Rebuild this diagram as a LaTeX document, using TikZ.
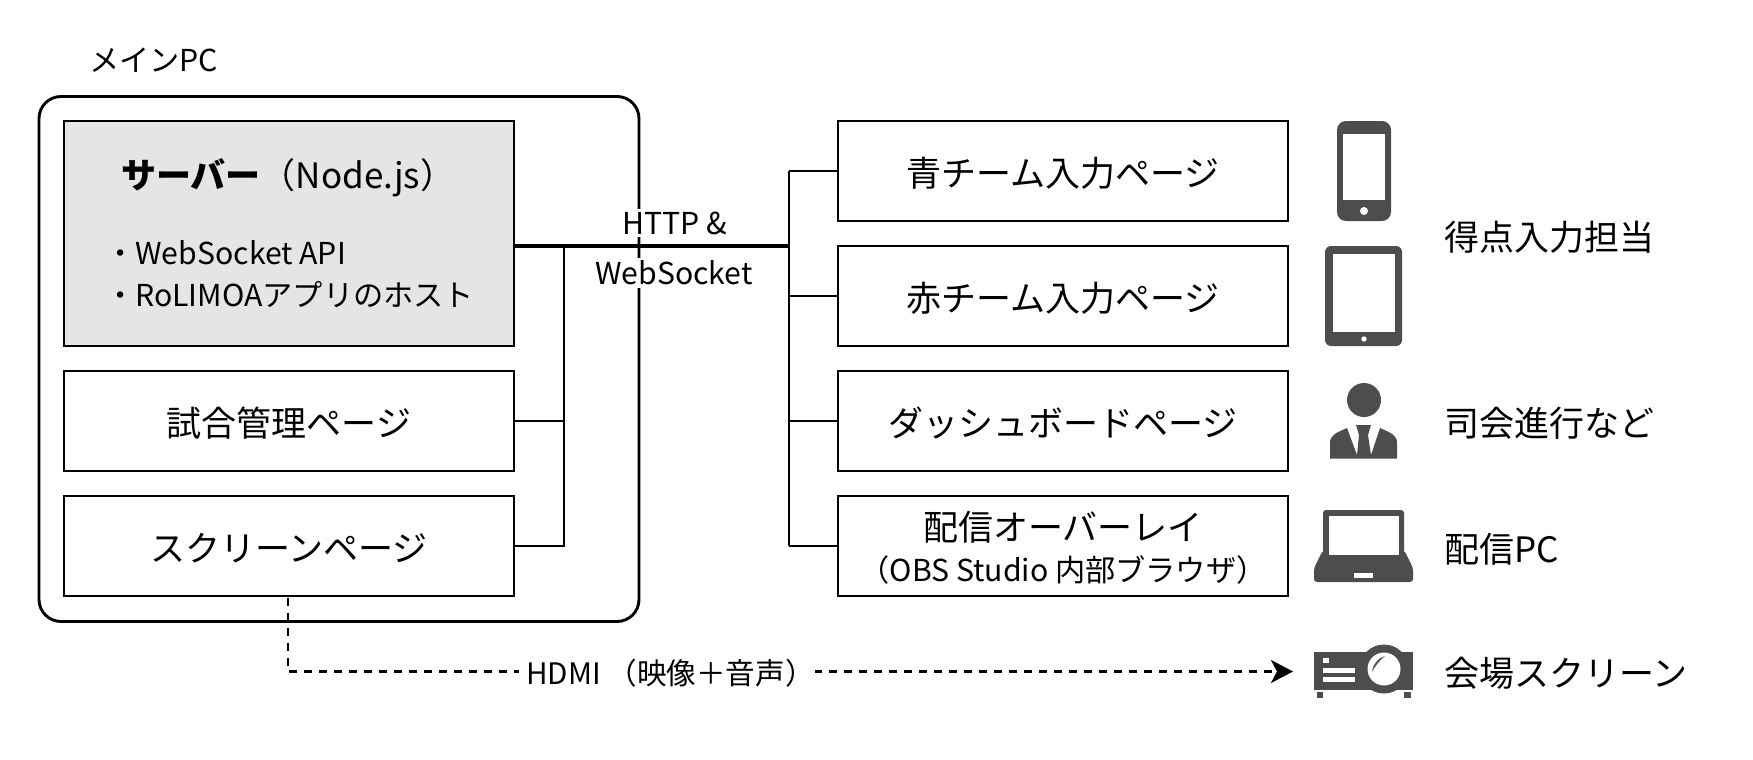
\documentclass[tikz,border=0pt]{standalone}
\usepackage{fontspec}
\setmainfont{Noto Sans CJK JP}
\usetikzlibrary{arrows.meta}
\definecolor{icon}{HTML}{4D4D4D}
\definecolor{srv}{HTML}{E5E5E5}
\tikzset{
  x=1pt,y=-1pt,
  box/.style={draw=black,line width=2.9pt,fill=white,minimum width=450pt,minimum height=100pt,inner sep=0pt,text height=30pt,text depth=0pt,font=\fontsize{35pt}{40pt}\selectfont},
  lbl/.style={inner sep=0pt,font=\fontsize{35pt}{40pt}\selectfont,anchor=west},
  small/.style={inner sep=0pt,font=\fontsize{30.2pt}{34pt}\selectfont},
  wire/.style={draw=black,line width=2.9pt},
  ico/.style={fill=icon,draw=none},
  hole/.style={fill=white,draw=none},
}
\begin{document}
\begin{tikzpicture}
\useasboundingbox (0,0) rectangle (1753,760);
\fill[white] (0,0) rectangle (1753,760);
% main PC frame
\node[small,anchor=west] (mainlabel) at (89,60) {メインPC};
\node[draw=black,line width=2.9pt,rounded corners=22pt,minimum width=600pt,minimum height=525pt,inner sep=0pt] (mainpc) at (339,359) {};
% transport labels interrupt the frame
\node[small,fill=white,inner xsep=2pt,inner ysep=3pt] (http) at (675,223) {HTTP \&};
\node[small,fill=white,inner xsep=2pt,inner ysep=3pt] (ws) at (674,273) {WebSocket};
% boxes
\node[box,fill=srv] (server) at (289,233.5) [minimum height=225pt] {};
\node[box] (match) at (289,421) {試合管理ページ};
\node[box] (screen) at (289,546) {スクリーンページ};
\node[box] (blue) at (1063,171) {青チーム入力ページ};
\node[box] (red) at (1063,296) {赤チーム入力ページ};
\node[box] (dash) at (1063,421) {ダッシュボードページ};
\node[box] (overlay) at (1063,546) {};
% text inside server
\node[lbl] (srvtitle) at (121,177.5) {\textbf{サーバー}（Node.js）};
\node[small,anchor=west] (srvline1) at (105,253) {・WebSocket API};
\node[small,anchor=west] (srvline2) at (105,295) {・RoLIMOAアプリのホスト};
% text inside overlay
\node[inner sep=0pt,font=\fontsize{35pt}{40pt}\selectfont] (ovl1) at (1063,527) {配信オーバーレイ};
\node[small] (ovl2) at (1063,570) {（OBS Studio 内部ブラウザ）};
% connectors
\coordinate (busL) at (564,246);
\coordinate (busR) at (789,246);
\draw[draw=black,line width=3.8pt] (server.east |- busL) -- (busR);
\draw[wire] (busL) -- (busL |- screen.east) -- (screen.east);
\draw[wire] (match.east) -- (busL |- match.east);
\draw[wire] (busR |- blue.west) -- (busR |- overlay.west);
\draw[wire] (busR |- blue.west) -- (blue.west);
\draw[wire] (busR |- red.west) -- (red.west);
\draw[wire] (busR |- dash.west) -- (dash.west);
\draw[wire] (busR |- overlay.west) -- (overlay.west);
% HDMI
\coordinate (hdmibend) at (288,671.5);
\coordinate (projin) at (1293,671.5);
\draw[draw=black,line width=2.8pt,dash pattern=on 8pt off 7pt,-{Stealth[length=22pt,width=23pt,inset=6pt]}] (288,597.5) -- (hdmibend) -- (projin);
\node[inner sep=0pt,font=\fontsize{29.6pt}{34pt}\selectfont,fill=white,anchor=west,inner ysep=4pt] (hdmi) at (519,673) {\hspace{7pt}HDMI （映像＋音声）};
% right labels
\node[lbl] (tokuten) at (1444,237) {得点入力担当};
\node[lbl] (shikai) at (1444,423) {司会進行など};
\node[lbl] (haishin) at (1444,549) {配信PC};
\node[lbl] (kaijo) at (1444,673) {会場スクリーン};
% phone
\fill[ico,rounded corners=9pt] (1337,121) rectangle (1391,221);
\fill[hole] (1343,134) rectangle (1385,200);
\fill[hole] (1364,211) circle (4pt);
% tablet
\fill[ico,rounded corners=6pt] (1325,246) rectangle (1402,346);
\fill[hole] (1333,254) rectangle (1395,332);
\fill[hole] (1364,339) circle (2.7pt);
% person
\fill[ico] (1364,400) circle (17pt);
\fill[ico] (1330,458.5) -- (1330,443) .. controls (1330,435) and (1336,433) .. (1347,428)
  -- (1357,455) -- (1371,455) -- (1380,428)
  .. controls (1391,433) and (1397,435) .. (1397,443) -- (1397,458.5) -- cycle;
\fill[ico] (1356,425) -- (1371,425) -- (1368,435) -- (1371,455) -- (1357,455) -- (1359,435) -- cycle;
% laptop
\fill[ico,rounded corners=3pt] (1323,510) rectangle (1404,556);
\fill[ico,rounded corners=3pt] (1323,550) -- (1404,550) -- (1413,568) -- (1413,582) -- (1314,582) -- (1314,568) -- cycle;
\fill[hole] (1329,516) rectangle (1399,555);
\fill[hole] (1354,573) rectangle (1373,578);
% projector
\fill[ico] (1314,652) rectangle (1413,690);
\fill[ico] (1384,669) circle (24.5pt);
\fill[ico] (1317,692) rectangle (1323,698);
\fill[ico] (1404,692) rectangle (1411,698);
\fill[hole] (1323,658) rectangle (1329,663);
\fill[hole] (1323,668) rectangle (1355,673);
\fill[hole] (1323,677) rectangle (1355,682);
\fill[hole] (1384,669) circle (16.5pt);
\fill[ico] (1372,672) .. controls (1373,664) and (1378,658) .. (1385,656) .. controls (1379,661) and (1375,666) .. (1372,672) -- cycle;
\end{tikzpicture}
\end{document}
